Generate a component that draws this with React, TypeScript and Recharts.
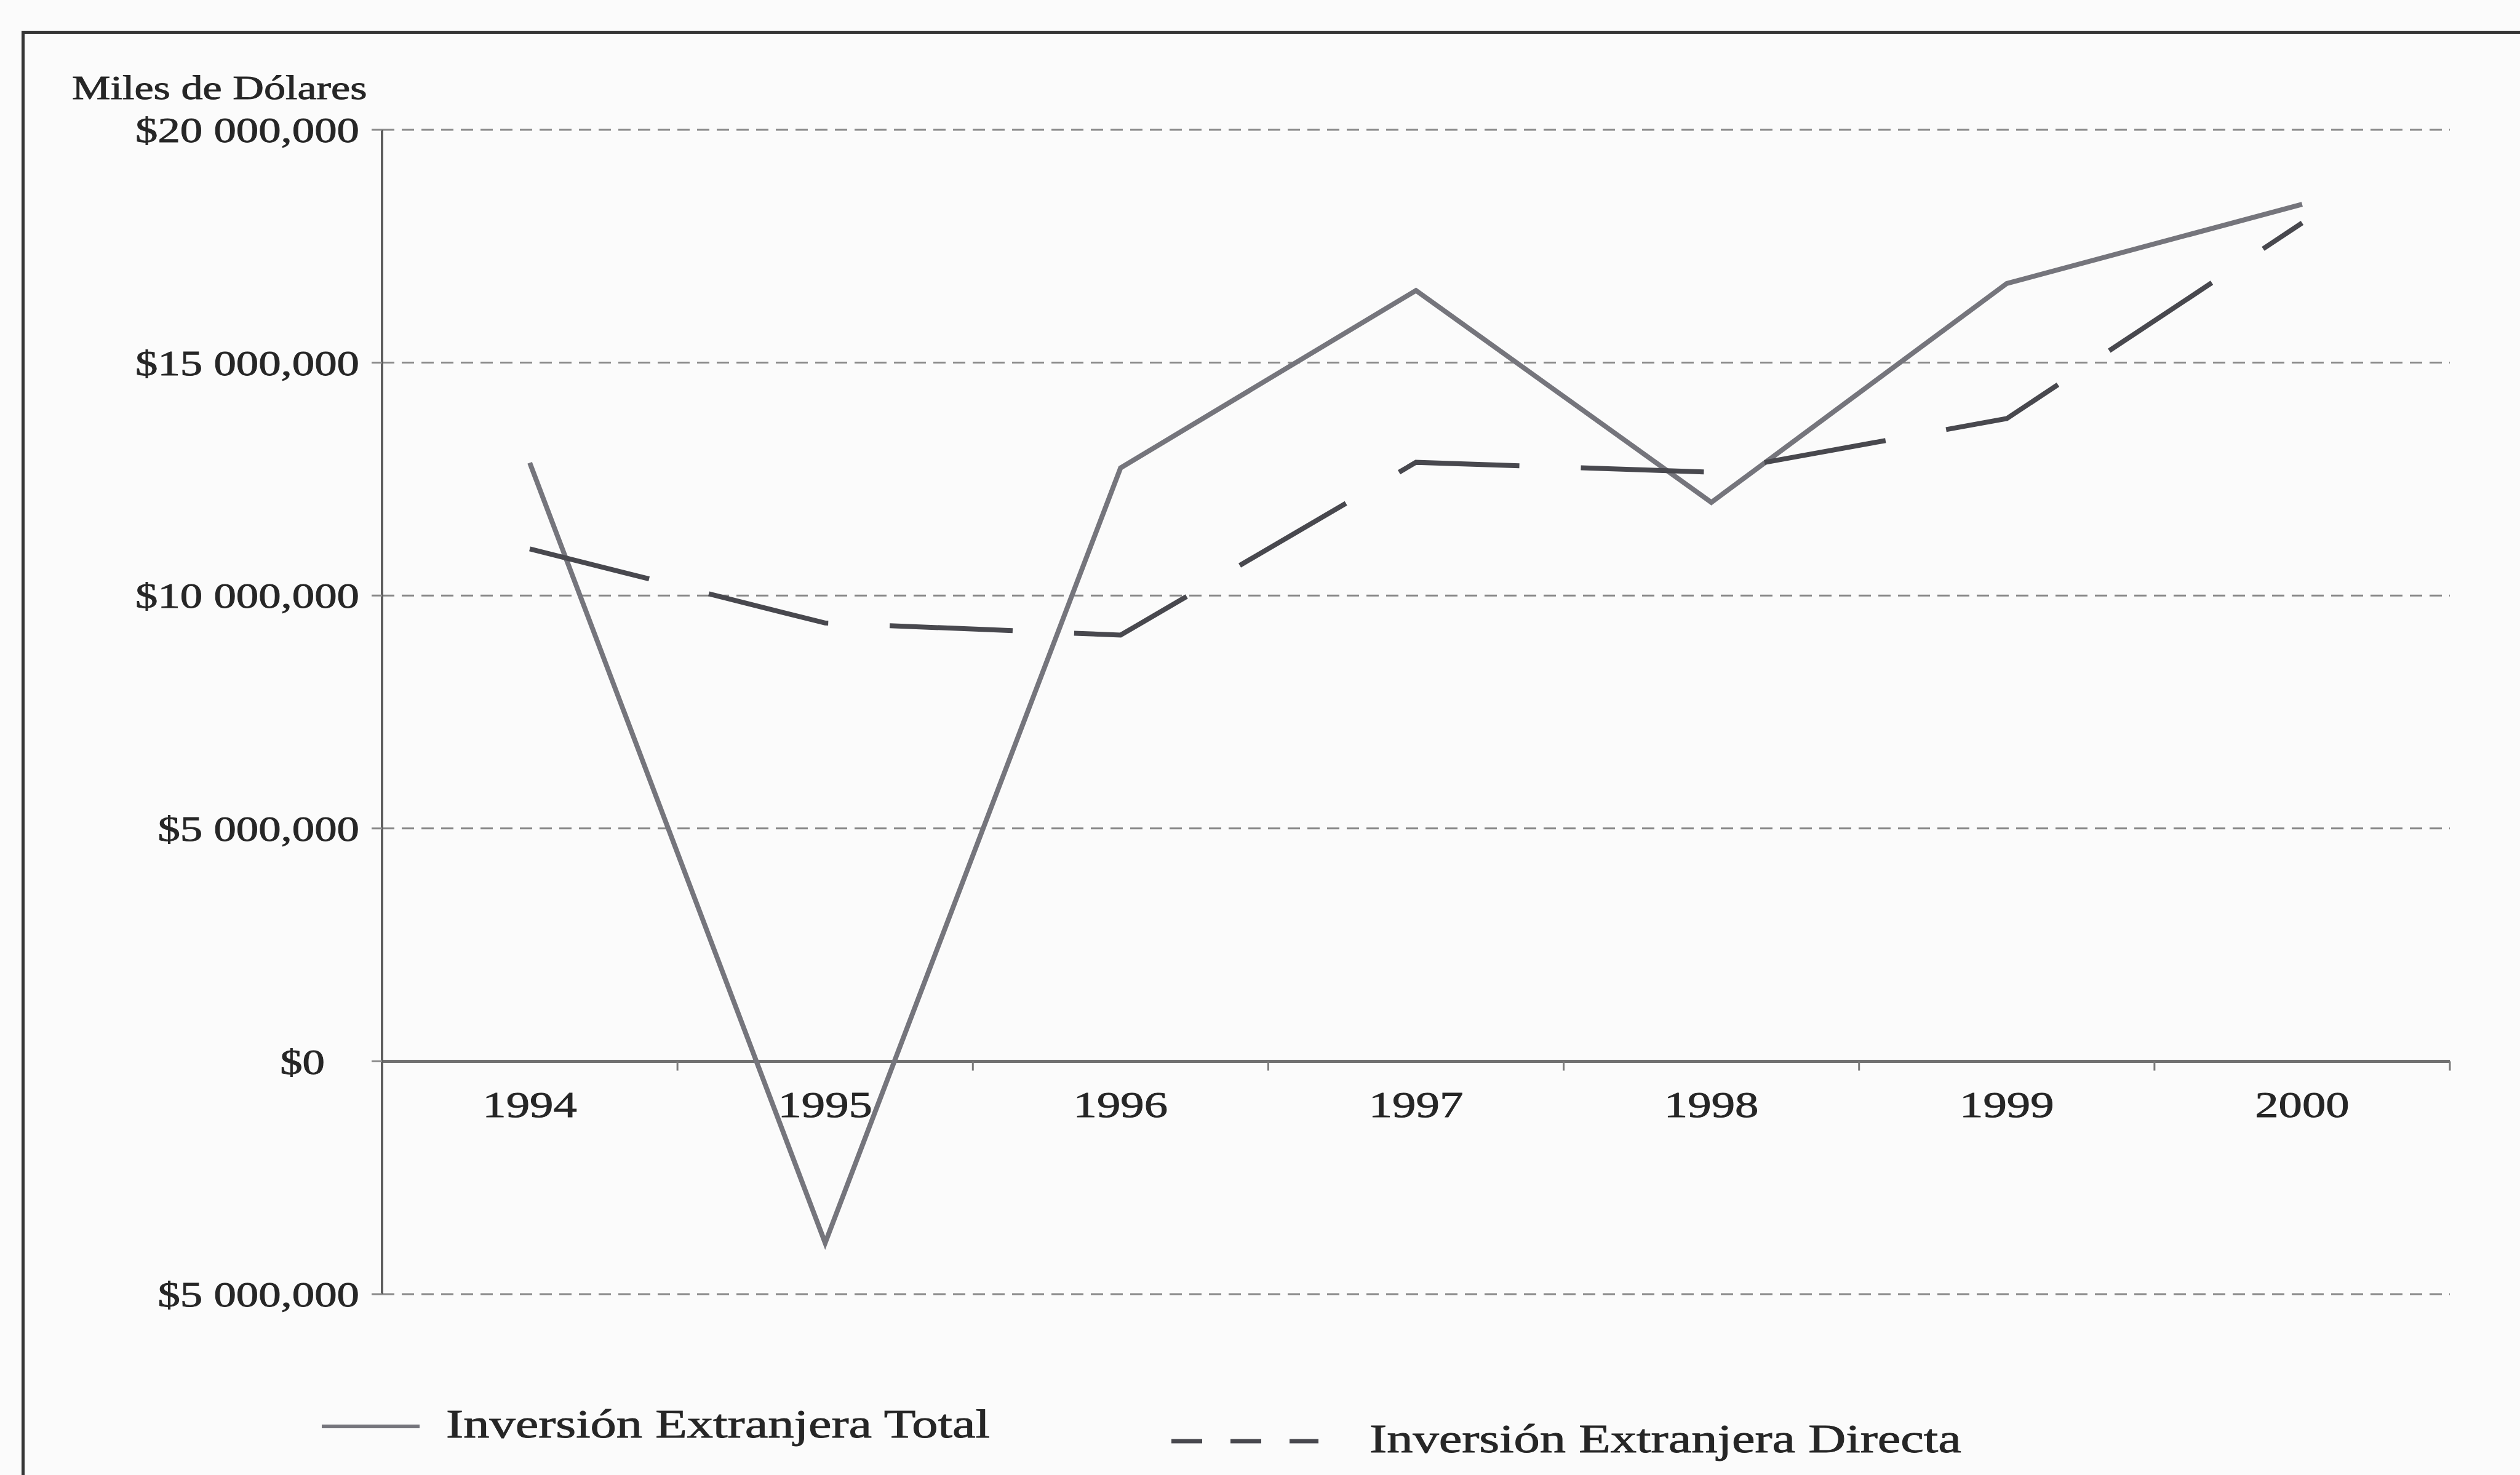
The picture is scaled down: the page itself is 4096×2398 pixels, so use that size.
import React from 'react';
import {
  LineChart,
  Line,
  XAxis,
  YAxis,
  CartesianGrid,
  ReferenceLine,
  ReferenceDot,
  Legend,
} from 'recharts';

// ---------- data ----------
const years = [1994, 1995, 1996, 1997, 1998, 1999, 2000];
const totalValues = [12850000, -3900000, 12740000, 16550000, 12000000, 16700000, 18400000];
const directaValues = [11000000, 9410000, 9150000, 12860000, 12650000, 13800000, 18000000];
const yTicks = [-5000000, 0, 5000000, 10000000, 15000000, 20000000];
const bandEdges = [1994.5, 1995.5, 1996.5, 1997.5, 1998.5, 1999.5, 2000.5];
const seriesNames = ['Inversión Extranjera Total', 'Inversión Extranjera Directa'];
const yAxisTitle = 'Miles de Dólares';

const chartData = years.map((yr, i) => ({
  year: yr,
  total: totalValues[i],
  directa: directaValues[i],
}));

// ---------- style ----------
const FONT = '"Liberation Serif", "Times New Roman", serif';
const SX = 1.3;
const TEXT = '#262626';
const TEXT_STROKE = 0.9;
const TOTAL_COLOR = '#75757c';
const DIRECTA_COLOR = '#48484e';
const GRID_COLOR = '#8a8a8a';
const AXIS_COLOR = '#5e5e5e';

const fmt = (v: number) => {
  const a = Math.abs(v);
  if (a === 0) return '$0';
  const s = String(a);
  return '$' + s.slice(0, -6) + ' ' + s.slice(-6, -3) + ',' + s.slice(-3);
};

const YTick = (props: any) => {
  const { x, y, payload } = props;
  const v = payload.value;
  const shift = v === 0 ? -56 : 0;
  return (
    <g transform={`translate(${x + shift},${y}) scale(${SX},1)`}>
      <text
        x={0}
        y={0}
        dy="0.36em"
        textAnchor="end"
        fill={TEXT}
        stroke={TEXT}
        strokeWidth={TEXT_STROKE}
        fontSize={56}
        fontFamily={FONT}
      >
        {fmt(v)}
      </text>
    </g>
  );
};

const YearLabel = (props: any) => {
  const vb = props.viewBox || { x: 0, y: 0, width: 0, height: 0 };
  const cx = vb.x + (vb.width || 0) / 2;
  const cy = vb.y + (vb.height || 0) / 2;
  return (
    <g transform={`translate(${cx},${cy + 91}) scale(1.28,1)`}>
      <text
        x={0}
        y={0}
        textAnchor="middle"
        fill={TEXT}
        stroke={TEXT}
        strokeWidth={TEXT_STROKE}
        fontSize={60}
        fontFamily={FONT}
      >
        {props.year}
      </text>
    </g>
  );
};

const AxisTitle = (props: any) => {
  const vb = props.viewBox || { x: 0, y: 0 };
  return (
    <g transform={`translate(117,${vb.y - 50}) scale(${SX},1)`}>
      <text
        x={0}
        y={0}
        textAnchor="start"
        fill={TEXT}
        stroke={TEXT}
        strokeWidth={TEXT_STROKE}
        fontSize={54}
        fontFamily={FONT}
      >
        {yAxisTitle}
      </text>
    </g>
  );
};

const LegendContent = () => (
  <svg
    width={4096}
    height={140}
    style={{ position: 'absolute', left: 0, top: 0, overflow: 'visible' }}
  >
    <line x1={523} x2={682} y1={59} y2={59} stroke={TOTAL_COLOR} strokeWidth={6} />
    <g transform={`translate(725,77) scale(${SX},1)`}>
      <text
        x={0}
        y={0}
        fill={TEXT}
        stroke={TEXT}
        strokeWidth={TEXT_STROKE}
        fontSize={65}
        fontFamily={FONT}
      >
        {seriesNames[0]}
      </text>
    </g>
    <line
      x1={1904}
      x2={2143}
      y1={83}
      y2={83}
      stroke={DIRECTA_COLOR}
      strokeWidth={7}
      strokeDasharray="50 46"
    />
    <g transform={`translate(2226,101) scale(${SX},1)`}>
      <text
        x={0}
        y={0}
        fill={TEXT}
        stroke={TEXT}
        strokeWidth={TEXT_STROKE}
        fontSize={65}
        fontFamily={FONT}
      >
        {seriesNames[1]}
      </text>
    </g>
  </svg>
);

export default function App() {
  return (
    <div
      style={{
        position: 'absolute',
        left: 0,
        top: 0,
        width: 4096,
        height: 2398,
        background: '#fbfbfb',
        overflow: 'hidden',
      }}
    >
      <div
        style={{
          position: 'absolute',
          left: 35,
          top: 50,
          width: 4200,
          height: 2500,
          borderLeft: '5px solid #353535',
          borderTop: '5px solid #353535',
        }}
      />
      <div style={{ position: 'absolute', left: 0, top: 0 }}>
        <LineChart
          width={4096}
          height={2398}
          data={chartData}
          margin={{ top: 211, right: 114, bottom: 294, left: 0 }}
        >
          <CartesianGrid
            horizontal={true}
            vertical={false}
            stroke={GRID_COLOR}
            strokeWidth={3}
            strokeDasharray="20 12"
          />
          <XAxis
            dataKey="year"
            type="number"
            domain={[1993.5, 2000.5]}
            ticks={years}
            hide
          />
          <YAxis
            type="number"
            domain={[-5000000, 20000000]}
            ticks={yTicks}
            interval={0}
            width={621}
            axisLine={{ stroke: AXIS_COLOR, strokeWidth: 4 }}
            tickLine={{ stroke: GRID_COLOR, strokeWidth: 3 }}
            tickSize={17}
            tickMargin={20}
            tick={<YTick />}
            label={<AxisTitle />}
          />
          <ReferenceLine y={0} stroke="#707070" strokeWidth={5} ifOverflow="visible" />
          {bandEdges.map((e) => (
            <ReferenceLine
              key={'edge' + e}
              segment={[
                { x: e, y: 0 },
                { x: e, y: -200000 },
              ]}
              stroke="#7a7a7a"
              strokeWidth={3}
              ifOverflow="visible"
            />
          ))}
          {years.map((yr) => (
            <ReferenceDot
              key={'lbl' + yr}
              x={yr}
              y={0}
              r={0}
              fill="none"
              stroke="none"
              ifOverflow="visible"
              label={<YearLabel year={yr} />}
            />
          ))}
          <Line
            type="linear"
            dataKey="total"
            name={seriesNames[0]}
            stroke={TOTAL_COLOR}
            strokeWidth={8}
            dot={false}
            activeDot={false}
            isAnimationActive={false}
          />
          <Line
            type="linear"
            dataKey="directa"
            name={seriesNames[1]}
            stroke={DIRECTA_COLOR}
            strokeWidth={8}
            strokeDasharray="200 100"
            dot={false}
            activeDot={false}
            isAnimationActive={false}
          />
          <Legend
            content={<LegendContent />}
            wrapperStyle={{ position: 'absolute', left: 0, top: 2260, width: 4096, height: 0 }}
          />
        </LineChart>
      </div>
    </div>
  );
}
